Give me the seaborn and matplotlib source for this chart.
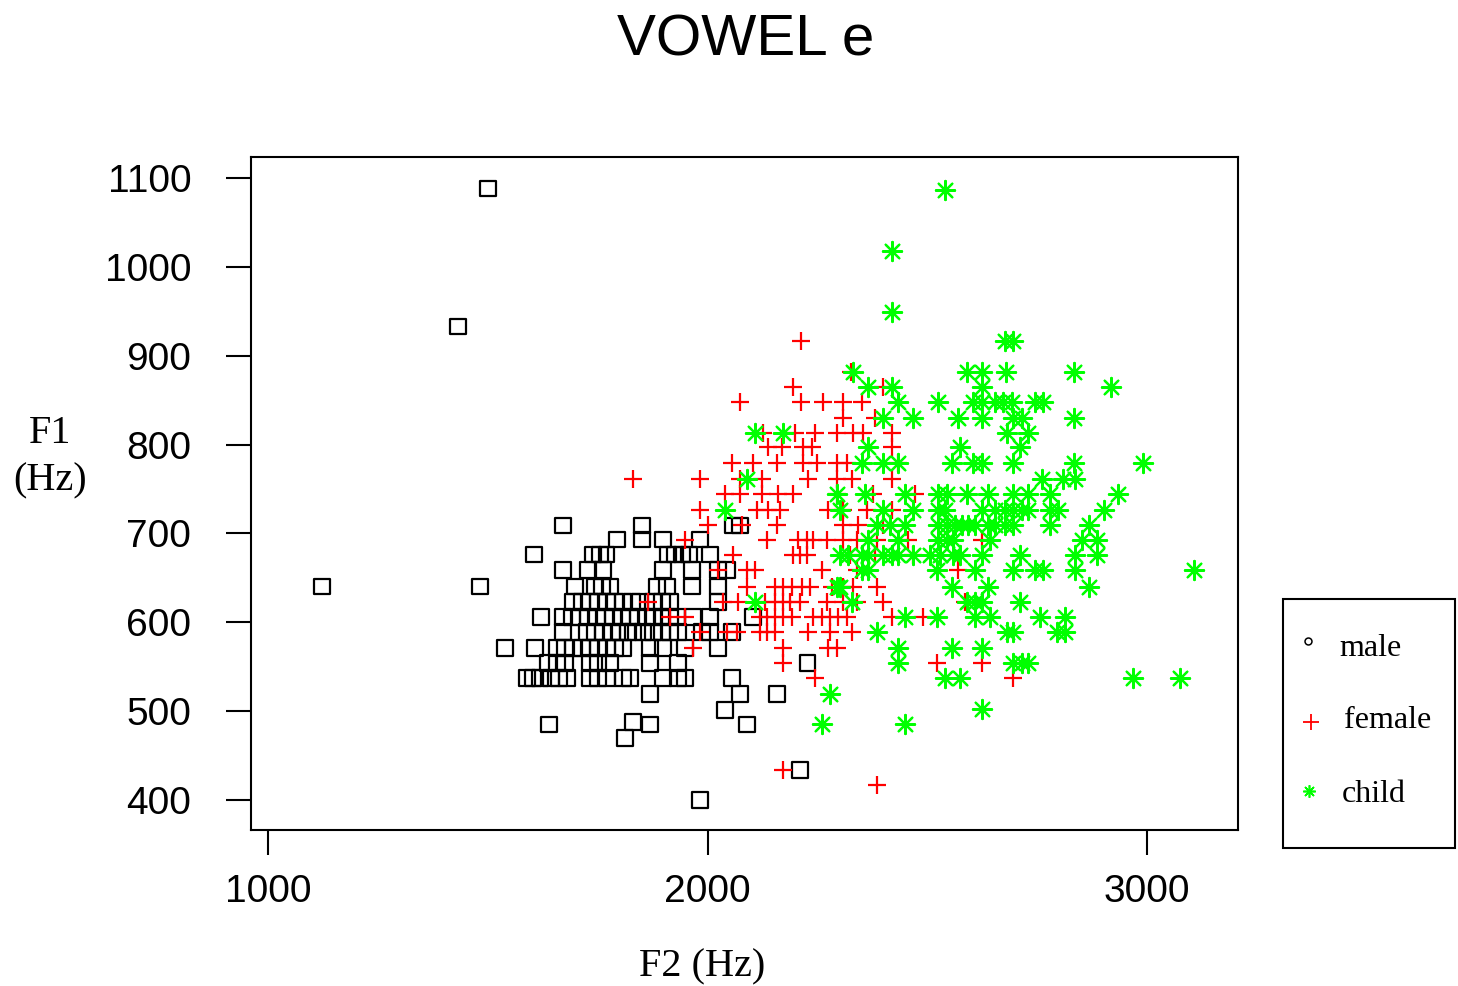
import numpy as np
import pandas as pd
import matplotlib
matplotlib.use("Agg")
import matplotlib.pyplot as plt
import seaborn as sns
from matplotlib.lines import Line2D
from matplotlib.patches import Rectangle

# ---------------- data (F2, F1 in Hz) ----------------
male_points = [
    (1123, 640), (1432, 933), (1501, 1088), (1482, 640),
    (1671, 709), (1851, 709), (1851, 693), (1794, 693),
    (1605, 676), (1740, 676), (1755, 676), (1770, 676),
    (1671, 659), (1728, 659), (1762, 659),
    (1698, 640), (1744, 640), (1760, 640), (1778, 640),
    (1694, 623), (1714, 623), (1733, 623), (1751, 623), (1771, 623), (1789, 623), (1808, 623), (1828, 623), (1846, 623),
    (1621, 606), (1671, 606), (1692, 606), (1710, 606), (1728, 606), (1749, 606), (1767, 606), (1785, 606), (1805, 606),
    (1824, 606), (1842, 606), (1862, 606),
    (1671, 589), (1726, 589), (1744, 589), (1762, 589), (1783, 589), (1801, 589), (1819, 589), (1830, 589), (1853, 589),
    (1539, 571), (1607, 571), (1658, 571), (1676, 571), (1694, 571), (1714, 571), (1733, 571), (1751, 571), (1771, 571),
    (1789, 571), (1808, 571), (1869, 571),
    (1637, 554), (1658, 554), (1676, 554), (1733, 554), (1751, 554), (1778, 554), (1869, 554),
    (1589, 537), (1603, 537), (1619, 537), (1644, 537), (1662, 537), (1680, 537), (1733, 537), (1751, 537), (1771, 537), (1808, 537),
    (1869, 519), (2158, 519),
    (1639, 485), (1830, 488), (1812, 470), (1869, 485),
    (1899, 693), (1983, 693),
    (1910, 676), (1926, 676), (1942, 676), (1958, 676), (2006, 676),
    (1899, 659), (1965, 659), (2024, 659), (2044, 659),
    (1885, 640), (1908, 640), (1965, 640), (2024, 640),
    (1876, 623), (1896, 623), (1915, 623), (2024, 623),
    (1876, 606), (1896, 606), (1915, 606), (1931, 606), (1967, 606), (2006, 606), (2103, 606),
    (1876, 589), (1896, 589), (1915, 589), (1933, 589), (1987, 589), (2006, 589), (2056, 589),
    (1899, 571), (1949, 571), (2024, 571),
    (1933, 554), (2228, 554),
    (1824, 537), (1899, 537), (1933, 537), (1949, 537), (2056, 537),
    (2074, 519),
    (2040, 501), (2090, 485), (2210, 434), (1983, 400),
    (2058, 709), (2074, 709),
]

female_points = [
    (2213, 917), (2327, 882), (2194, 865), (2399, 865),
    (2074, 848), (2213, 848), (2263, 848), (2309, 848), (2351, 848),
    (2309, 830), (2381, 830),
    (2126, 813), (2199, 813), (2245, 813), (2295, 813), (2331, 813), (2354, 813), (2420, 813),
    (2138, 797), (2170, 797), (2218, 797), (2238, 797), (2420, 797),
    (2056, 779), (2104, 779), (2158, 779), (2218, 779), (2249, 779), (2295, 779), (2317, 779), (2433, 779),
    (1830, 761), (1983, 761), (2074, 761), (2124, 761), (2229, 761), (2295, 761), (2329, 761), (2420, 761),
    (2040, 744), (2074, 744), (2124, 744), (2160, 744), (2194, 744), (2295, 744), (2377, 744), (2472, 744),
    (1983, 726), (2113, 726), (2138, 726), (2165, 726), (2274, 726), (2309, 726), (2363, 726), (2420, 726),
    (2001, 709), (2079, 709), (2158, 709), (2309, 709), (2342, 709), (2399, 709),
    (1949, 693), (2135, 693), (2206, 693), (2226, 693), (2240, 693), (2272, 693), (2309, 693), (2340, 693),
    (2386, 693), (2456, 693), (2625, 693),
    (2058, 676), (2194, 676), (2210, 676), (2226, 676), (2324, 676), (2381, 676), (2468, 676),
    (2024, 659), (2090, 659), (2108, 659), (2260, 659), (2340, 659), (2570, 659),
    (2090, 640), (2154, 640), (2172, 640), (2192, 640), (2215, 640), (2233, 640), (2283, 640), (2309, 640),
    (2331, 640), (2386, 640),
    (1865, 623), (2035, 623), (2070, 623), (2131, 623), (2154, 623), (2172, 623), (2188, 623), (2210, 623),
    (2272, 623), (2309, 623), (2340, 623), (2399, 623), (2586, 623),
    (1915, 606), (1949, 606), (2119, 606), (2135, 606), (2154, 606), (2172, 606), (2192, 606), (2240, 606),
    (2260, 606), (2279, 606), (2297, 606), (2317, 606), (2420, 606), (2490, 606),
    (1983, 589), (2044, 589), (2067, 589), (2119, 589), (2135, 589), (2154, 589), (2229, 589), (2279, 589), (2329, 589),
    (1967, 571), (2172, 571), (2274, 571), (2295, 571),
    (2172, 554), (2522, 554), (2625, 554),
    (2245, 537), (2695, 537),
    (2172, 434), (2386, 417),
]

child_points = [
    (2540, 1087), (2420, 1018), (2420, 949),
    (2677, 917), (2695, 917),
    (2331, 882), (2590, 882), (2625, 882), (2679, 882), (2834, 882),
    (2365, 865), (2420, 865), (2625, 865), (2918, 865),
    (2433, 848), (2524, 848), (2604, 848), (2625, 848), (2654, 848), (2672, 848), (2693, 848), (2745, 848), (2763, 848),
    (2399, 830), (2468, 830), (2570, 830), (2625, 830), (2695, 830), (2716, 830), (2834, 830),
    (2108, 813), (2172, 813), (2682, 813), (2729, 813),
    (2365, 797), (2575, 797), (2711, 797),
    (2351, 779), (2399, 779), (2433, 779), (2556, 779), (2604, 779), (2625, 779), (2695, 779), (2834, 779), (2991, 779),
    (2090, 761), (2761, 761), (2809, 761), (2836, 761),
    (2295, 744), (2358, 744), (2449, 744), (2524, 744), (2545, 744), (2590, 744), (2638, 744), (2695, 744),
    (2729, 744), (2779, 744), (2934, 744),
    (2040, 726), (2301, 726), (2399, 726), (2468, 726), (2524, 726), (2540, 726), (2625, 726), (2654, 726),
    (2677, 726), (2695, 726), (2716, 726), (2729, 726), (2779, 726), (2797, 726), (2902, 726),
    (2386, 709), (2415, 709), (2449, 709), (2524, 709), (2545, 709), (2563, 709), (2579, 709), (2593, 709),
    (2609, 709), (2638, 709), (2654, 709), (2677, 709), (2695, 709), (2779, 709), (2868, 709),
    (2365, 693), (2433, 693), (2524, 693), (2545, 693), (2559, 693), (2643, 693), (2852, 693), (2886, 693),
    (2301, 676), (2320, 676), (2351, 676), (2365, 676), (2399, 676), (2420, 676), (2433, 676), (2468, 676),
    (2506, 676), (2529, 676), (2559, 676), (2575, 676), (2625, 676), (2711, 676), (2836, 676), (2886, 676),
    (2351, 659), (2365, 659), (2522, 659), (2609, 659), (2695, 659), (2745, 659), (2763, 659), (2836, 659), (3107, 659),
    (2295, 640), (2301, 640), (2556, 640), (2638, 640), (2868, 640),
    (2108, 623), (2329, 623), (2590, 623), (2609, 623), (2625, 623), (2711, 623),
    (2449, 606), (2522, 606), (2609, 606), (2643, 606), (2757, 606), (2813, 606),
    (2386, 589), (2682, 589), (2695, 589), (2795, 589), (2813, 589),
    (2433, 571), (2556, 571), (2625, 571),
    (2433, 554), (2695, 554), (2716, 554), (2729, 554),
    (2540, 537), (2575, 537), (2968, 537), (3075, 537),
    (2279, 519), (2625, 502), (2260, 485), (2450, 485),
]

groups = ["male", "female", "child"]
x_ticks = [1000, 2000, 3000]
y_ticks = [400, 500, 600, 700, 800, 900, 1000, 1100]
title_text = "VOWEL e"
x_label = "F2 (Hz)"
y_label = "F1\n(Hz)"

# ---------------- figure ----------------
sns.set_style("white")
plt.rcParams["font.family"] = ["Liberation Sans", "DejaVu Sans"]
plt.rcParams["text.color"] = "black"

W, H = 1458, 986
fig = plt.figure(figsize=(W / 100, H / 100), dpi=100)
ax = fig.add_axes([251 / W, 1 - 830 / H, (1238 - 251) / W, (830 - 157) / H])

def to_df(points):
    arr = np.array(points, dtype=float)
    return pd.DataFrame({"F2": arr[:, 0], "F1": arr[:, 1]})

dm, df_, dc = to_df(male_points), to_df(female_points), to_df(child_points)

sns.scatterplot(data=dm, x="F2", y="F1", ax=ax, marker="s", s=125,
                facecolor="none", edgecolor="black", linewidth=1.6, zorder=3)
ax.collections[-1].set_joinstyle("round")
sns.scatterplot(data=df_, x="F2", y="F1", ax=ax, marker="+", s=185,
                color="#FF0000", linewidth=1.6, zorder=4)
sns.scatterplot(data=dc, x="F2", y="F1", ax=ax, marker=(8, 2, 0), s=190,
                color="#00FF00", linewidth=1.6, zorder=5)

ax.set_xlim(961.3, 3207)
ax.set_ylim(366.2, 1123.6)
ax.set_xticks(x_ticks)
ax.set_yticks(y_ticks)
ax.set_xlabel("")
ax.set_ylabel("")
for sp in ax.spines.values():
    sp.set_visible(True)
    sp.set_color("black")
    sp.set_linewidth(1.5)
ax.tick_params(axis="both", direction="out", length=18, width=1.5, color="black",
               labelsize=28, labelcolor="black", bottom=True, left=True,
               top=False, right=False)
ax.tick_params(axis="x", pad=14)
ax.tick_params(axis="y", pad=25)
ax.grid(False)

fig.text(746 / W, 1 - 40 / H, title_text, ha="center", va="center", fontsize=42,
         color="black", family=["Liberation Sans", "DejaVu Sans"])
fig.text(702 / W, 1 - 967 / H, x_label, ha="center", va="center", fontsize=29,
         color="black", family=["Liberation Serif", "DejaVu Serif"])
fig.text(50 / W, 1 - 457 / H, y_label, ha="center", va="center", fontsize=29,
         color="black", multialignment="center", linespacing=1.38,
         family=["Liberation Serif", "DejaVu Serif"])

# legend box drawn in figure coords
fig.add_artist(Rectangle((1283 / W, 1 - 848 / H), 172 / W, 249 / H, transform=fig.transFigure,
                         fill=False, edgecolor="black", linewidth=1.5))
leg_items = [
    ("male", 1308, 641, 1339, 648, dict(marker="o", markersize=5, markerfacecolor="none",
                                         markeredgecolor="black", markeredgewidth=1.1)),
    ("female", 1311, 722, 1344, 721, dict(marker="+", markersize=12, color="#FF0000",
                                           markeredgewidth=1.3)),
    ("child", 1309, 791, 1342, 795, dict(marker=(8, 2, 0), markersize=9, color="#00FF00",
                                          markeredgewidth=1.2)),
]
for label, mx, my, tx, ty, kw in leg_items:
    fig.add_artist(Line2D([mx / W], [1 - my / H], linestyle="none", transform=fig.transFigure, **kw))
    fig.text(tx / W, 1 - ty / H, label, ha="left", va="center", fontsize=23, color="black",
             family=["Liberation Serif", "DejaVu Serif"])

fig.savefig("out.png", dpi=100)
